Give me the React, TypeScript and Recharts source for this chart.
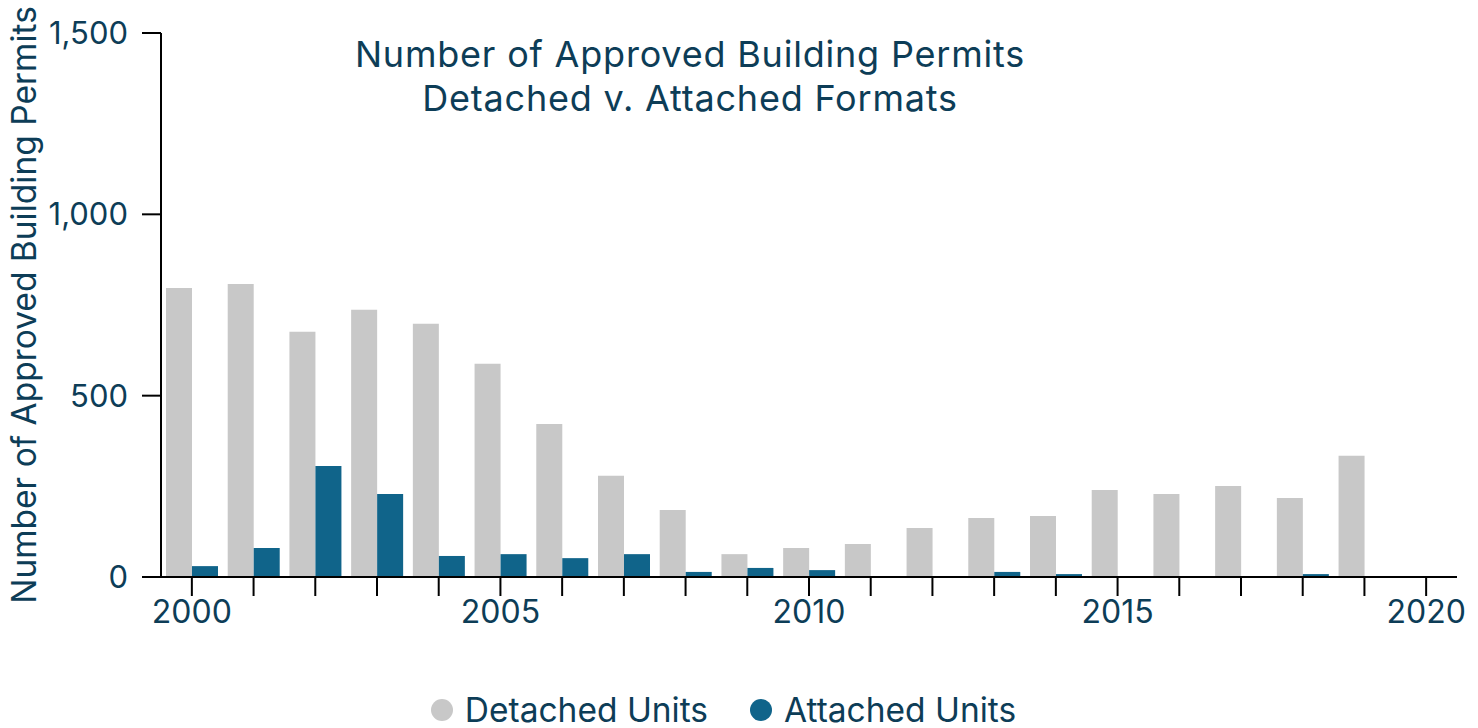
import { Bar, BarChart, Legend, XAxis, YAxis } from "recharts";

const years = [
  "2000", "2001", "2002", "2003", "2004", "2005", "2006", "2007", "2008", "2009",
  "2010", "2011", "2012", "2013", "2014", "2015", "2016", "2017", "2018", "2019", "2020",
];
const detachedUnits = [
  797, 808, 676, 737, 698, 588, 422, 279, 185, 63,
  80, 91, 135, 163, 168, 240, 229, 251, 218, 334, null,
];
const attachedUnits = [
  30, 80, 306, 229, 58, 63, 52, 63, 14, 25,
  19, 0, 0, 14, 8, 0, 0, 0, 8, 0, null,
];
const yTicks = [0, 500, 1000, 1500];

const textColor = "#0d3d57";
const detachedColor = "#c8c8c8";
const attachedColor = "#10648a";
const font = "Inter, 'Noto Sans', sans-serif";

const chartData = years.map((year, i) => ({
  year,
  detached: detachedUnits[i],
  attached: attachedUnits[i],
}));

function LegendContent() {
  const items = [
    { name: "Detached Units", color: detachedColor },
    { name: "Attached Units", color: attachedColor },
  ];
  return (
    <div
      style={{
        display: "flex",
        justifyContent: "center",
        gap: 42,
        paddingRight: 10,
        fontFamily: font,
        fontSize: 33.5,
        color: textColor,
        lineHeight: "36px",
      }}
    >
      {items.map((item) => (
        <div key={item.name} style={{ display: "flex", alignItems: "center" }}>
          <span
            style={{
              width: 22,
              height: 22,
              borderRadius: "50%",
              background: item.color,
              marginRight: 12,
              display: "inline-block",
            }}
          />
          {item.name}
        </div>
      ))}
    </div>
  );
}

export default function App() {
  return (
    <div style={{ position: "absolute", left: 0, top: 0, width: 1478, height: 728 }}>
      <BarChart
        width={1478}
        height={728}
        data={chartData}
        margin={{ top: 33, right: 21, bottom: 0, left: 0 }}
        barGap={0}
      >
        <XAxis
          dataKey="year"
          interval={0}
          tickSize={19}
          tickMargin={4}
          height={115}
          stroke="#000"
          strokeWidth={2}
          tick={{ fill: textColor, fontSize: 32, fontFamily: font }}
          tickFormatter={(v: string) => (Number(v) % 5 === 0 ? v : "")}
        />
        <YAxis
          width={161}
          domain={[0, 1500]}
          ticks={yTicks}
          tickSize={19}
          tickMargin={14}
          stroke="#000"
          strokeWidth={2}
          tick={{ fill: textColor, fontSize: 31, fontFamily: font }}
          tickFormatter={(v: number) => v.toLocaleString("en-US")}
          label={({ viewBox }: any) => {
            const x = viewBox.x + 24;
            const y = viewBox.y + viewBox.height / 2;
            return (
              <text
                x={x}
                y={y}
                transform={`rotate(-90, ${x}, ${y})`}
                textAnchor="middle"
                dominantBaseline="central"
                fill={textColor}
                fontSize={33.5}
                fontFamily={font}
              >
                Number of Approved Building Permits
              </text>
            );
          }}
        />
        <Legend verticalAlign="bottom" height={36} content={<LegendContent />} />
        <Bar dataKey="detached" name="Detached Units" fill={detachedColor} barSize={26} isAnimationActive={false} />
        <Bar dataKey="attached" name="Attached Units" fill={attachedColor} barSize={26} isAnimationActive={false} />
      </BarChart>
      <div
        style={{
          position: "absolute",
          left: 290,
          top: 32,
          width: 800,
          textAlign: "center",
          fontFamily: font,
          fontSize: 36,
          letterSpacing: 0.8,
          lineHeight: "44px",
          color: textColor,
        }}
      >
        <div>Number of Approved Building Permits</div>
        <div>Detached v. Attached Formats</div>
      </div>
    </div>
  );
}
